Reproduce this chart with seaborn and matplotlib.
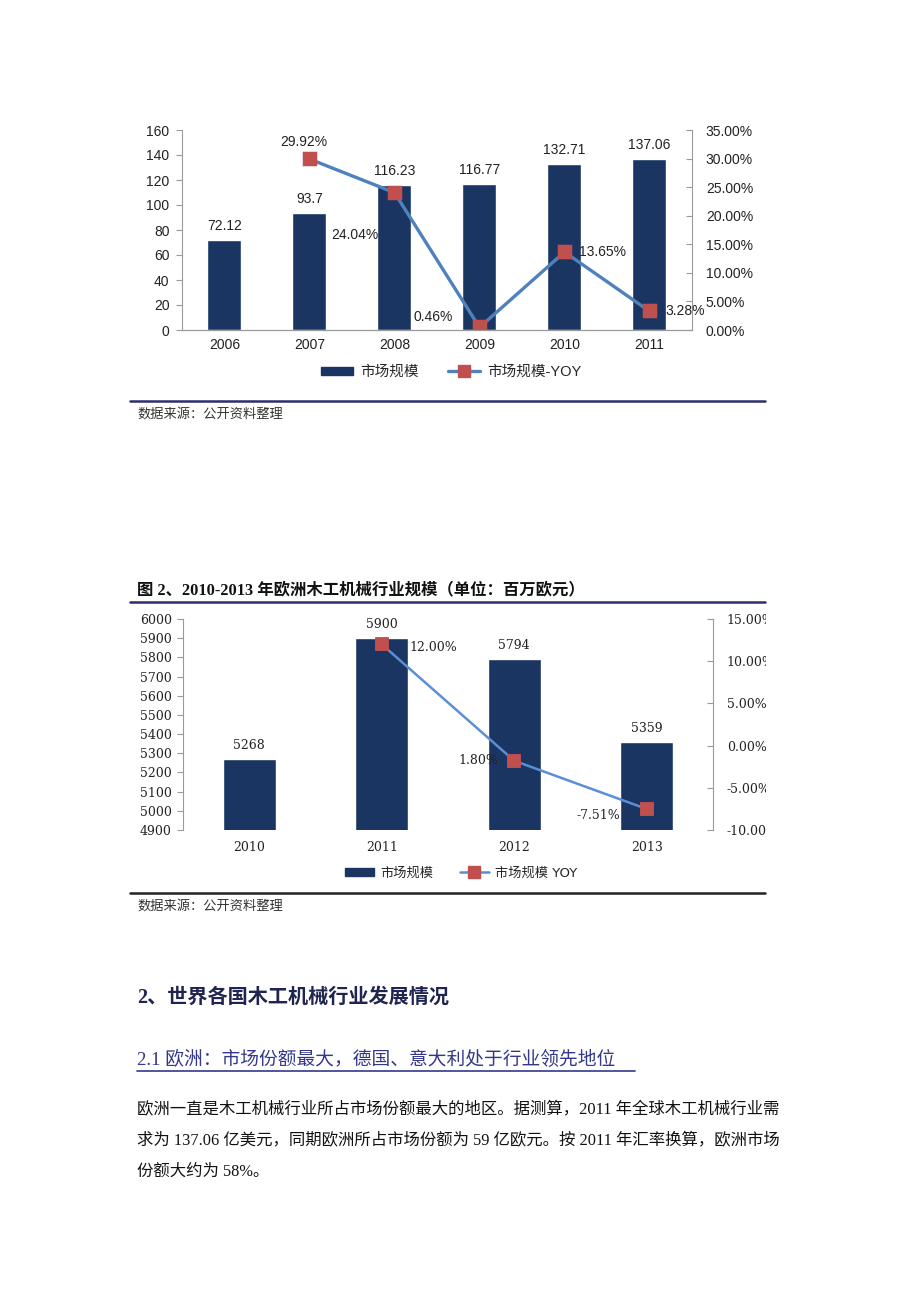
import numpy as np
import matplotlib
matplotlib.use("Agg")
import matplotlib.pyplot as plt
from matplotlib.patches import Rectangle
from matplotlib.lines import Line2D
from matplotlib.font_manager import FontProperties
from matplotlib.ticker import FuncFormatter
import seaborn as sns

# chart 1 data: world market size (billion USD) and YOY
years1 = ["2006", "2007", "2008", "2009", "2010", "2011"]
market1 = [72.12, 93.7, 116.23, 116.77, 132.71, 137.06]
market1_labels = ["72.12", "93.7", "116.23", "116.77", "132.71", "137.06"]
yoy1 = [np.nan, 29.92, 24.04, 0.46, 13.65, 3.28]
yoy1_labels = ["", "29.92%", "24.04%", "0.46%", "13.65%", "3.28%"]

# chart 2 data: europe market size (million EUR) and YOY
years2 = ["2010", "2011", "2012", "2013"]
market2 = [5268, 5900, 5794, 5359]
market2_labels = ["5268", "5900", "5794", "5359"]
yoy2 = [np.nan, 12.00, -1.80, -7.51]
yoy2_labels = ["", "12.00%", "1.80%", "-7.51%"]

navy = "#1B3563"
blue = "#4F81BD"
red = "#C0504D"
gray = "#9A9A9A"

sns.set_style("white")
plt.rcParams["font.family"] = ["Liberation Sans", "Noto Sans CJK SC"]
cjk = ["Noto Sans CJK SC", "DejaVu Sans"]
serif_cjk = ["Liberation Serif", "Noto Sans CJK SC"]

W, H = 920, 1302
fig = plt.figure(figsize=(W / 100, H / 100), dpi=100)


def fx(px):
    return px / W


def fy(py):
    return 1 - py / H


def axes_box(x0, y0, x1, y1):
    return [fx(x0), fy(y1), (x1 - x0) / W, (y1 - y0) / H]


def hline(y, x0, x1, color, lw):
    fig.add_artist(Line2D([fx(x0), fx(x1)], [fy(y), fy(y)], color=color, lw=lw,
                          transform=fig.transFigure))


# ---------------- chart 1 ----------------
ax1 = fig.add_axes(axes_box(182, 130, 692, 330))
sns.barplot(x=years1, y=market1, ax=ax1, color=navy, width=0.4, saturation=1)
ax1.bar_label(ax1.containers[0], labels=market1_labels, padding=5, fontsize=10, color="#222222")
ax1.set_ylim(0, 160)
ax1.set_yticks(range(0, 161, 20))

ax1b = ax1.twinx()
sns.pointplot(x=years1, y=yoy1, order=years1, ax=ax1b, color=blue, markers="s",
              linewidth=2.4, markersize=8, markerfacecolor=red, markeredgecolor=red,
              errorbar=None)
ax1b.set_ylim(0, 35)
ax1b.set_yticks(range(0, 36, 5))
ax1b.yaxis.set_major_formatter(FuncFormatter(lambda v, p: f"{v:.2f}%"))

offs1 = [None, (-6, 17, "center"), (-16, -42, "right"), (-27, 10, "right"),
         (14, 0, "left"), (16, 0, "left")]
for i, (v, t) in enumerate(zip(yoy1, yoy1_labels)):
    if offs1[i] is None:
        continue
    dx, dy, ha = offs1[i]
    ax1b.annotate(t, (i, v), xytext=(dx, dy), textcoords="offset pixels",
                  ha=ha, va="center", fontsize=10, color="#222222")

for a in (ax1, ax1b):
    a.set_xlim(-0.5, len(years1) - 0.5)
    a.spines["top"].set_visible(False)
    for s in a.spines.values():
        s.set_color(gray)
        s.set_linewidth(0.8)
ax1.spines["right"].set_visible(False)
ax1b.spines["left"].set_visible(False)
ax1.set_xticks(np.arange(-0.5, len(years1)), minor=True)
ax1.tick_params(axis="x", which="major", length=0, labelsize=10, pad=6, labelcolor="#222222")
ax1.tick_params(axis="x", which="minor", length=5, color=gray, direction="out")
ax1.tick_params(axis="y", length=4, color=gray, labelsize=10, pad=5, labelcolor="#222222")
ax1b.tick_params(axis="y", length=4, color=gray, direction="in", labelsize=10, pad=10,
                 labelcolor="#222222")

h_bar = Rectangle((0, 0), 1, 1, color=navy)
h_line = Line2D([], [], color=blue, lw=2.4, marker="s", markersize=8,
                markerfacecolor=red, markeredgecolor=red)
fig.legend([h_bar, h_line], ["市场规模", "市场规模-YOY"], loc="center",
           bbox_to_anchor=(fx(451), fy(372)), ncol=2, frameon=False,
           handlelength=2.2, handleheight=0.5, columnspacing=2.0, handletextpad=0.5,
           prop=FontProperties(family=["Liberation Sans", "Noto Sans CJK SC"], size=10.5))

hline(401, 130, 765, "#2E2E6E", 1.8)
fig.text(fx(137), fy(414), "数据来源：公开资料整理", fontsize=9.5, family=cjk,
         color="#333333", va="center")

# ---------------- chart 2 ----------------
fig.text(fx(137), fy(590), "图 2、2010-2013 年欧洲木工机械行业规模（单位：百万欧元）",
         fontsize=11.8, fontweight="bold", family=serif_cjk, color="#111111", va="center")
hline(602, 130, 765, "#2E2E6E", 1.8)

ax2 = fig.add_axes(axes_box(183, 619, 713, 830))
sns.barplot(x=years2, y=market2, ax=ax2, color=navy, width=0.4, saturation=1)
ax2.set_ylim(4900, 6000)
ax2.set_yticks(range(4900, 6001, 100))
ax2.bar_label(ax2.containers[0], labels=market2_labels, padding=5, fontsize=9,
              family="DejaVu Serif", color="#222222")

ax2b = ax2.twinx()
sns.pointplot(x=years2, y=yoy2, order=years2, ax=ax2b, color="#5B8ED6", markers="s",
              linewidth=1.8, markersize=8, markerfacecolor=red, markeredgecolor=red,
              errorbar=None)
ax2b.set_ylim(-10, 15)
ax2b.set_yticks(range(-10, 16, 5))
ax2b.yaxis.set_major_formatter(FuncFormatter(lambda v, p: f"{v:.2f}%"))

offs2 = [None, (28, -3, "left"), (-16, 0, "right"), (-26, -7, "right")]
for i, (v, t) in enumerate(zip(yoy2, yoy2_labels)):
    if offs2[i] is None:
        continue
    dx, dy, ha = offs2[i]
    ax2b.annotate(t, (i, v), xytext=(dx, dy), textcoords="offset pixels",
                  ha=ha, va="center", fontsize=9, family="DejaVu Serif", color="#222222")

for a in (ax2, ax2b):
    a.set_xlim(-0.5, len(years2) - 0.5)
    a.spines["top"].set_visible(False)
    a.spines["bottom"].set_visible(False)
    for s in a.spines.values():
        s.set_color(gray)
        s.set_linewidth(0.8)
ax2.spines["right"].set_visible(False)
ax2b.spines["left"].set_visible(False)
ax2.set_xticks([0.5, 2.5], minor=True)
ax2.tick_params(axis="x", which="major", length=0, labelsize=9, pad=8, labelcolor="#222222")
ax2.tick_params(axis="x", which="minor", length=4, color=gray, direction="out", pad=4)
for t in ax2.get_xticklabels():
    t.set_family("DejaVu Serif")
ax2.tick_params(axis="y", length=4, color=gray, labelsize=9, pad=4, labelcolor="#222222")
for t in ax2.get_yticklabels():
    t.set_family("DejaVu Serif")
ax2b.tick_params(axis="y", length=4, color=gray, direction="in", labelsize=9, pad=10,
                 labelcolor="#222222")
for t in ax2b.get_yticklabels():
    t.set_family("DejaVu Serif")

h_line2 = Line2D([], [], color="#5B8ED6", lw=1.8, marker="s", markersize=8,
                 markerfacecolor=red, markeredgecolor=red)
fig.legend([h_bar, h_line2], ["市场规模", "市场规模 YOY"], loc="center",
           bbox_to_anchor=(fx(461), fy(873)), ncol=2, frameon=False,
           handlelength=2.2, handleheight=0.5, columnspacing=2.0, handletextpad=0.5,
           prop=FontProperties(family=["DejaVu Sans", "Noto Sans CJK SC"], size=9.5))

# right tick labels of chart 2 are cut off at the page margin
fig.add_artist(Rectangle((fx(766), fy(845)), fx(150), (845 - 605) / H,
                         transform=fig.transFigure, facecolor="white", edgecolor="none",
                         zorder=20))

hline(893, 130, 765, "#222222", 1.8)
fig.text(fx(137), fy(906), "数据来源：公开资料整理", fontsize=9.5, family=cjk,
         color="#333333", va="center")

# ---------------- body text ----------------
fig.text(fx(137), fy(998), "2、世界各国木工机械行业发展情况", fontsize=14.5,
         fontweight="bold", family=serif_cjk, color="#1F2550", va="center")
fig.text(fx(137), fy(1060), "2.1 欧洲：市场份额最大，德国、意大利处于行业领先地位",
         fontsize=13.5, family=serif_cjk, color="#33388A", va="center")
hline(1071, 137, 635, "#33388A", 1.2)

para = [
    "欧洲一直是木工机械行业所占市场份额最大的地区。据测算，2011 年全球木工机械行业需",
    "求为 137.06 亿美元，同期欧洲所占市场份额为 59 亿欧元。按 2011 年汇率换算，欧洲市场",
    "份额大约为 58%。",
]
for k, line in enumerate(para):
    fig.text(fx(137), fy(1110 + 31 * k), line, fontsize=11.8, family=serif_cjk,
             color="#111111", va="center")

fig.savefig("out.png", dpi=100, facecolor="white")
